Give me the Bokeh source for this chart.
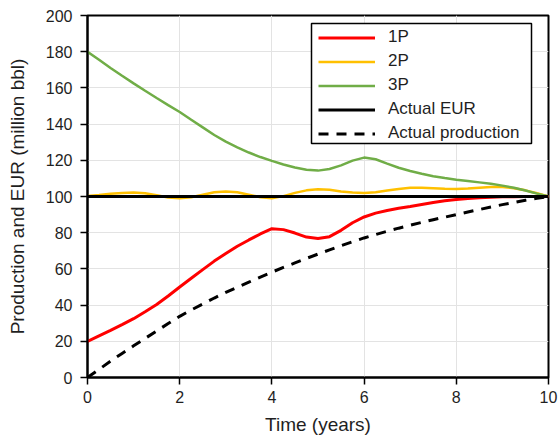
from bokeh.plotting import figure
from bokeh.models import Legend, LegendItem, FixedTicker, Range1d, BoxAnnotation
from bokeh.embed import file_html
from bokeh.resources import INLINE

# Time axis (years), sampled every quarter year
time_years = [i * 0.25 for i in range(41)]

# Reserve estimates (million bbl)
p1 = [20, 23, 26, 29.2, 32.5, 36.3, 40.3, 45, 50, 54.8,
      59.6, 64.3, 68.5, 72.5, 76, 79.3, 82.2, 81.7, 79.8, 77.6,
      76.8, 77.8, 81.3, 85.5, 88.7, 90.8, 92.3, 93.5, 94.5, 95.6,
      96.7, 97.6, 98.3, 98.9, 99.3, 99.6, 99.8, 99.9, 100, 100, 100]
p2 = [100.3, 100.8, 101.5, 102, 102.2, 101.8, 100.7, 99.5, 99, 99.6,
      101, 102.3, 102.8, 102.3, 101, 99.6, 99, 100.2, 102, 103.4,
      104, 103.7, 102.8, 102.2, 102, 102.4, 103.3, 104.2, 104.8, 104.9,
      104.6, 104.3, 104.2, 104.4, 104.8, 105.2, 105.2, 104.6, 103.4, 101.8, 100]
p3 = [180, 175.5, 171, 166.7, 162.5, 158.4, 154.4, 150.5, 146.7, 142.4,
      138.2, 134, 130.3, 127.2, 124.3, 121.8, 119.7, 117.7, 116, 114.8,
      114.3, 115.2, 117.2, 119.8, 121.5, 120.6, 118.2, 115.9, 114.1, 112.6,
      111.2, 110.2, 109.3, 108.6, 107.8, 107, 106, 104.8, 103.3, 101.6, 100]
actual_production = [0, 4.5, 9, 13.3, 17.5, 21.6, 25.7, 29.8, 33.8, 37.3,
                     40.6, 43.9, 47, 49.9, 52.7, 55.5, 58.2, 60.8, 63.3, 65.8,
                     68.2, 70.5, 72.8, 75, 77.1, 79, 80.8, 82.5, 84.1, 85.7,
                     87.2, 88.6, 90, 91.4, 92.8, 94.2, 95.5, 96.7, 97.9, 99, 100]

# Actual estimated ultimate recovery
eur_time = [0, 10]
eur_value = [100, 100]

x_ticks = [0, 2, 4, 6, 8, 10]
y_ticks = [0, 20, 40, 60, 80, 100, 120, 140, 160, 180, 200]

FONT = "Liberation Sans"
TXT = "#1f1f1f"

p = figure(width=558, height=440, output_backend="svg", toolbar_location=None,
           x_range=Range1d(0, 10), y_range=Range1d(0, 200),
           min_border_left=87, min_border_right=10,
           min_border_top=15, min_border_bottom=63)

p.outline_line_color = "black"
p.outline_line_width = 2
p.background_fill_color = "white"
p.border_fill_color = "white"

for ax in (p.xaxis[0], p.yaxis[0]):
    ax.axis_line_width = 2
    ax.axis_line_color = "black"
    ax.major_tick_out = 7
    ax.major_tick_in = 0
    ax.major_tick_line_width = 1.5
    ax.major_tick_line_color = "black"
    ax.minor_tick_line_color = None
    ax.major_label_text_font = FONT
    ax.major_label_text_font_size = "16px"
    ax.major_label_text_color = TXT
    ax.axis_label_text_font = FONT
    ax.axis_label_text_font_size = "19px"
    ax.axis_label_text_font_style = "normal"
    ax.axis_label_text_color = TXT

p.xaxis.ticker = FixedTicker(ticks=x_ticks)
p.yaxis.ticker = FixedTicker(ticks=y_ticks)
p.xaxis.axis_label = "Time (years)"
p.yaxis.axis_label = "Production and EUR (million bbl)"
p.xaxis.major_label_standoff = 6
p.xaxis.axis_label_standoff = 8
p.yaxis.major_label_standoff = 8
p.yaxis.axis_label_standoff = 15

p.grid.grid_line_color = "#e3e3e3"
p.grid.grid_line_width = 1

r2 = p.line(time_years, p2, line_color="#ffc000", line_width=2.5)
r3 = p.line(time_years, p3, line_color="#70ad47", line_width=2.5)
r1 = p.line(time_years, p1, line_color="#ff0000", line_width=3)
rprod = p.line(time_years, actual_production, line_color="black", line_width=3,
               line_dash="10 8")
reur = p.line(eur_time, eur_value, line_color="black", line_width=3)

# Framed white panel behind the legend entries (screen units from frame corner)
legend_box = BoxAnnotation(left=224, right=444, bottom=234, top=354,
                           left_units="screen", right_units="screen",
                           bottom_units="screen", top_units="screen",
                           fill_color="white", fill_alpha=1,
                           line_color="black", line_width=1.5, line_alpha=1)
p.add_layout(legend_box)

legend = Legend(items=[
    LegendItem(label="1P", renderers=[r1]),
    LegendItem(label="2P", renderers=[r2]),
    LegendItem(label="3P", renderers=[r3]),
    LegendItem(label="Actual EUR", renderers=[reur]),
    LegendItem(label="Actual production", renderers=[rprod]),
], location=(231, 234))
legend.border_line_color = None
legend.background_fill_alpha = 0
legend.padding = 4
legend.spacing = 4
legend.margin = 0
legend.glyph_height = 17
legend.label_height = 17
legend.glyph_width = 57
legend.label_standoff = 13
legend.label_text_font = FONT
legend.label_text_font_size = "17px"
legend.label_text_color = TXT
p.add_layout(legend, "center")

open("out.html", "w").write(file_html(p, INLINE))
